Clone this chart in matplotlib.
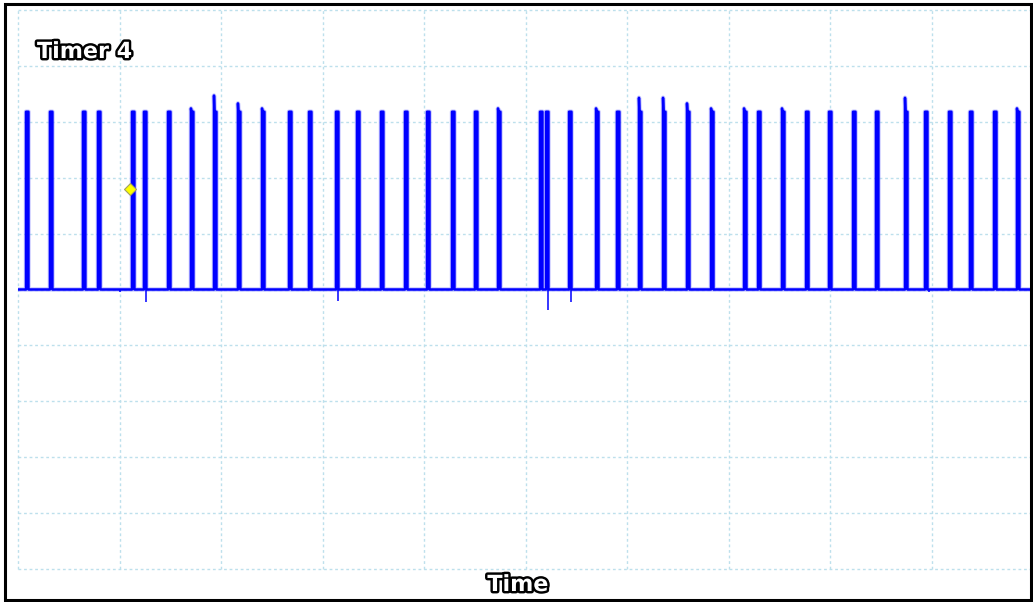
import numpy as np
import matplotlib
matplotlib.use("Agg")
import matplotlib.pyplot as plt
import matplotlib.patheffects as pe
from matplotlib.patches import Rectangle

# pulse start times (in screen divisions) and peak levels (divisions)
pulse_t = [0.079, 0.315, 0.640, 0.788, 1.123, 1.241, 1.478, 1.704, 1.931, 2.167,
           2.404, 2.670, 2.867, 3.133, 3.340, 3.576, 3.813, 4.030, 4.276, 4.502,
           4.729, 5.143, 5.202, 5.429, 5.695, 5.901, 6.118, 6.355, 6.591, 6.828,
           7.153, 7.291, 7.527, 7.764, 7.990, 8.227, 8.453, 8.739, 8.936, 9.172,
           9.379, 9.616, 9.842]
pulse_peak = [3.18, 3.18, 3.18, 3.18, 3.18, 3.18, 3.18, 3.24, 3.47, 3.33,
              3.24, 3.18, 3.18, 3.18, 3.18, 3.18, 3.18, 3.18, 3.18, 3.18,
              3.24, 3.18, 3.18, 3.18, 3.24, 3.18, 3.43, 3.43, 3.33, 3.24,
              3.24, 3.18, 3.24, 3.18, 3.18, 3.18, 3.18, 3.43, 3.18, 3.18,
              3.18, 3.18, 3.24]
high_level = 3.18
pulse_width = 0.024

# small negative glitches on the baseline
glitch_t = [1.004, 1.261, 3.153, 5.222, 5.449, 8.975]
glitch_depth = [-0.05, -0.23, -0.21, -0.36, -0.23, -0.05]

trigger = (1.101, 1.79)

W, H = 1033, 602
fig = plt.figure(figsize=(W / 100, H / 100), dpi=100)
ax = fig.add_axes([18 / W, (602 - 569) / H, (1033 - 18) / W, (569 - 10) / H])
ax.set_xlim(0, 10)
ax.set_ylim(-5, 5)
ax.axis("off")

grid_kw = dict(color="#bde0ec", lw=1, linestyle=(0, (2, 2)), clip_on=False, zorder=1)
for gx in range(11):
    ax.plot([gx, gx], [-5, 5], **grid_kw)
for gy in range(-5, 6):
    ax.plot([0, 10], [gy, gy], **grid_kw)

# build the trace from pulses
xs, ys = [0.0], [0.0]
for t, p in zip(pulse_t, pulse_peak):
    xs += [t, t, t + 0.004, t + pulse_width, t + pulse_width]
    ys += [0, p, high_level, high_level, 0]
xs.append(10.0)
ys.append(0.0)

ax.plot(xs, ys, color="#7f7fff", lw=3.2, alpha=0.45, zorder=2)
ax.plot(xs, ys, color="#0000ff", lw=1.8, zorder=3)
ax.vlines(glitch_t, glitch_depth, 0, color="#0000ff", lw=1.1, zorder=3)

ax.plot(*trigger, marker="D", ms=6, color="#ffff00", mec="#a0a060", mew=0.8, zorder=4)

outline = [pe.withStroke(linewidth=3.5, foreground="black")]
fig.text(37 / W, 1 - 52 / H, "Timer 4", color="white", fontsize=16, fontweight="bold",
         family="DejaVu Sans", va="center", ha="left", path_effects=outline)
fig.text(518 / W, 1 - 585 / H, "Time", color="white", fontsize=16, fontweight="bold",
         family="DejaVu Sans", va="center", ha="center", path_effects=outline)

fig.patches.append(Rectangle((4.5 / W, 2.5 / H), (1030.5 - 4.5) / W, (597.7 - 2.5) / H,
                             transform=fig.transFigure, fill=False, ec="black", lw=2.2))

fig.savefig("out.png", dpi=100)
